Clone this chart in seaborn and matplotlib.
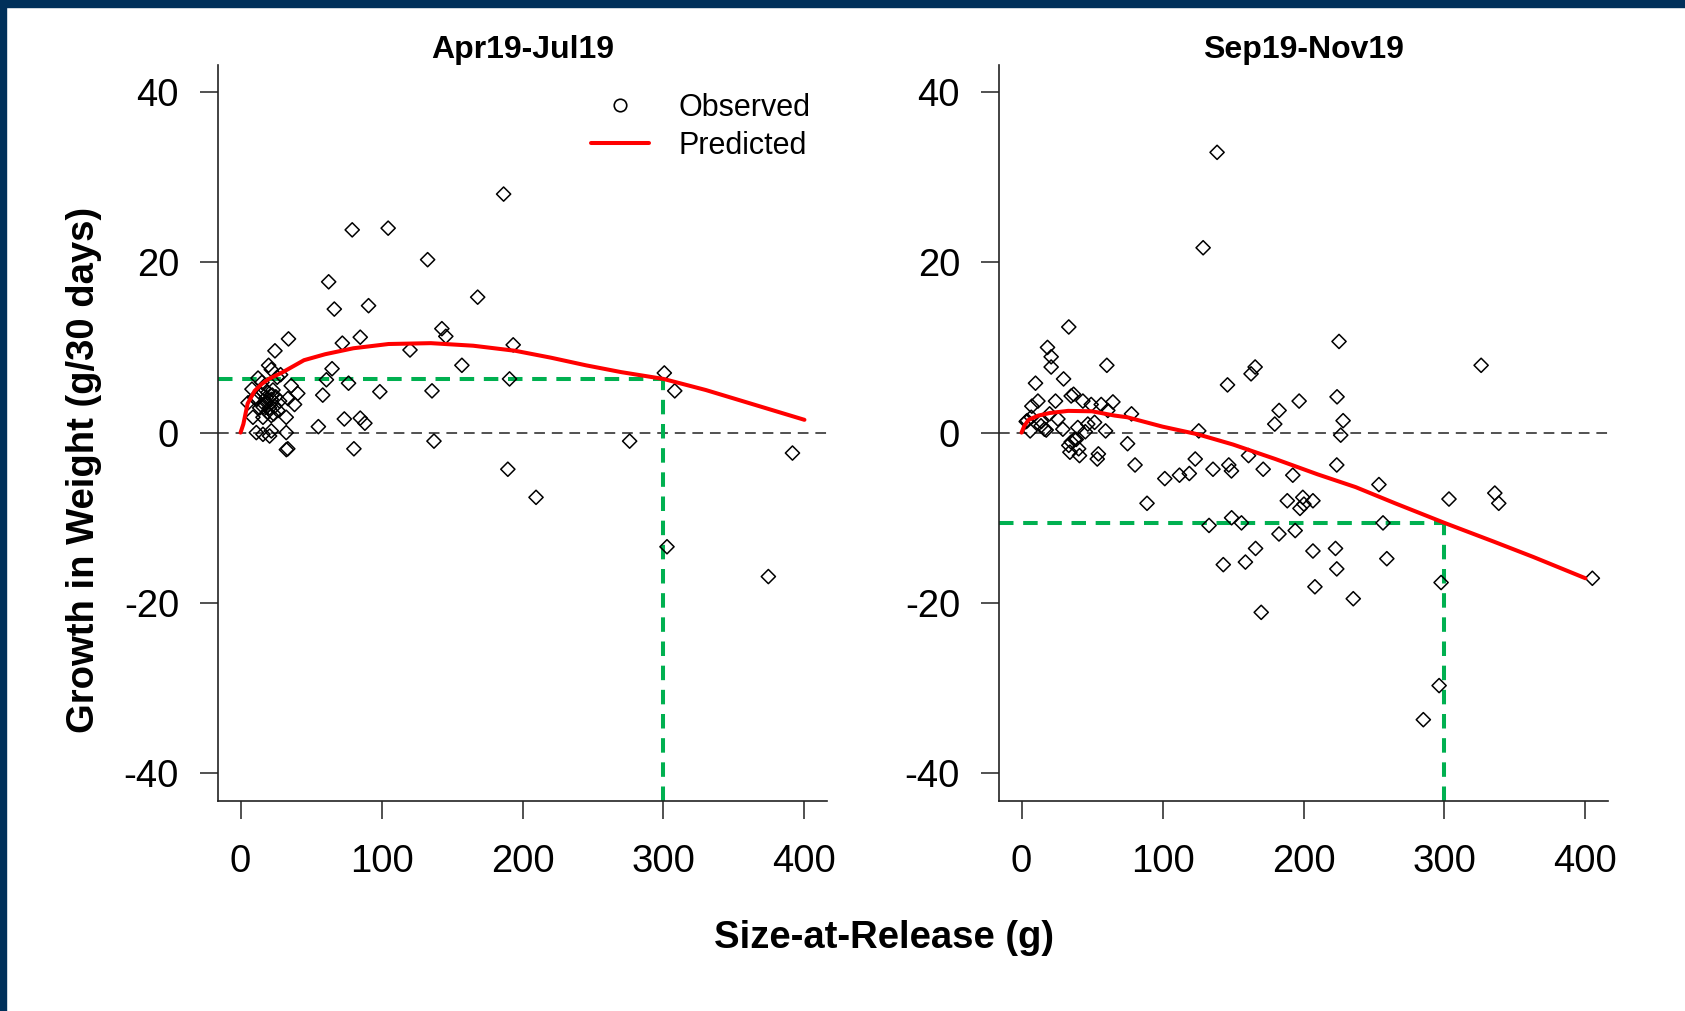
import numpy as np
import pandas as pd
import seaborn as sns
import matplotlib
matplotlib.use("Agg")
import matplotlib.pyplot as plt
from matplotlib.patches import Rectangle
from matplotlib.lines import Line2D

# ---------------- data ----------------
panel_titles = ["Apr19-Jul19", "Sep19-Nov19"]

# Apr19-Jul19 observed
apr_x = [186.6, 79.2, 104.7, 132.7, 62.5, 168.2, 66.5, 90.8, 142.8, 145.6, 84.9, 72.2, 34.0,
         120.2, 193.4, 24.4, 157.0, 64.9, 190.8, 60.9, 76.6, 98.8, 135.8, 58.3, 55.2, 73.6,
         84.9, 88.2, 80.4, 137.2, 276.0, 189.6, 209.6, 302.5, 374.4, 391.5, 300.6, 308.0,
         33.5, 32.5,
         19.9, 21.8, 26.0, 12.4, 15.2, 8.1, 35.9, 40.6, 33.6, 38.3, 5.3, 14.7, 18.2, 21.8,
         17.1, 20.6, 24.2, 27.7, 13.6, 26.5, 11.2, 19.4, 8.8, 15.9, 21.8, 32.4, 11.2, 15.9,
         20.6, 21.8, 32.4, 28.4, 10.0, 16.5, 23.0, 18.0, 22.5, 25.0, 16.0, 19.0, 23.5]
apr_y = [28.0, 23.8, 24.0, 20.3, 17.7, 15.9, 14.5, 14.9, 12.2, 11.3, 11.2, 10.5, 11.0,
         9.7, 10.3, 9.6, 7.9, 7.5, 6.3, 6.2, 5.8, 4.8, 4.9, 4.4, 0.7, 1.6,
         1.7, 1.1, -1.9, -1.0, -1.0, -4.3, -7.6, -13.4, -16.9, -2.4, 7.0, 4.9,
         -1.9, -2.0,
         7.9, 7.4, 6.5, 6.4, 5.9, 5.1, 5.5, 4.6, 4.0, 3.3, 3.5, 4.5, 4.1, 3.9,
         3.3, 2.9, 3.1, 3.7, 2.9, 2.6, 3.9, 4.7, 1.8, 1.8, 2.0, 1.8, 0.0, -0.2,
         -0.4, 0.2, 0.0, 6.8, 4.1, 5.2, 5.0, 3.6, 4.4, 4.2, 3.0, 2.4, 2.2]

# Sep19-Nov19 observed
sep_x = [138.7, 128.8, 33.5, 225.2, 18.4, 21.0, 21.0, 60.5, 9.9, 29.8, 146.1, 162.8, 165.7,
         223.8, 196.9, 182.7, 179.6, 228.1, 226.4, 125.7, 78.0, 75.2, 326.0,
         7.3, 11.6, 24.1, 35.2, 36.9, 43.5, 49.4, 56.5, 64.8, 61.2, 3.3, 6.9, 14.0, 19.9,
         25.8, 29.3, 39.9, 47.0, 51.8, 59.6, 6.1, 16.3, 38.8, 35.2, 33.5, 37.6, 34.3, 40.5,
         41.1, 54.5, 53.7, 45.2, 4.0, 13.8, 17.5,
         80.5, 89.0, 101.6, 112.0, 119.0, 123.2, 135.8, 147.0, 148.9, 161.0, 171.4, 192.4,
         223.6, 253.5, 303.2, 335.7, 338.5, 133.0, 149.0, 156.0, 182.6, 194.1, 188.5, 199.5,
         200.3, 197.5, 206.7, 256.4, 259.1, 206.7, 222.7, 223.6, 166.0, 143.1, 158.8, 208.1,
         235.3, 170.0, 297.6, 296.2, 285.0, 404.9]
sep_y = [32.9, 21.7, 12.4, 10.7, 10.0, 8.9, 7.7, 7.9, 5.8, 6.3, 5.6, 6.9, 7.7,
         4.2, 3.7, 2.6, 1.0, 1.4, -0.3, 0.2, 2.2, -1.3, 7.9,
         3.1, 3.7, 3.7, 4.3, 4.5, 3.7, 3.3, 3.3, 3.6, 2.6, 1.3, 1.8, 1.3, 2.2,
         1.6, 0.4, 0.6, 1.0, 1.2, 0.2, 0.2, 0.4, -0.8, -1.1, -1.5, -0.8, -2.3, -1.9,
         -2.7, -2.5, -3.1, 0.1, 1.4, 0.8, 0.3,
         -3.8, -8.3, -5.4, -5.0, -4.8, -3.1, -4.3, -3.8, -4.5, -2.7, -4.3, -5.0,
         -3.8, -6.1, -7.8, -7.1, -8.3, -10.9, -10.0, -10.6, -11.9, -11.5, -8.0, -7.6,
         -8.4, -8.9, -8.0, -10.6, -14.8, -13.9, -13.6, -16.0, -13.6, -15.5, -15.2, -18.1,
         -19.5, -21.1, -17.6, -29.7, -33.7, -17.1]

# Predicted curves
apr_pred_x = [0, 2, 5, 10, 15, 20, 30, 45, 60, 80, 105, 135, 165, 195, 220, 245, 270, 300, 330, 360, 400]
apr_pred_y = [0, 1.0, 3.4, 4.9, 5.7, 6.3, 7.1, 8.5, 9.2, 9.9, 10.4, 10.5, 10.2, 9.6, 8.8, 7.9, 7.1, 6.3, 5.0, 3.5, 1.5]
sep_pred_x = [0, 2, 5, 12, 20, 33, 50, 66, 75, 100, 125, 150, 180, 210, 237, 265, 300, 335, 363, 400]
sep_pred_y = [0, 0.8, 1.5, 2.0, 2.3, 2.55, 2.5, 2.0, 1.8, 0.7, -0.2, -1.4, -3.1, -4.9, -6.4, -8.3, -10.6, -12.8, -14.6, -17.1]

ref_size = 300
ref_growth = [6.3, -10.6]

x_ticks = [0, 100, 200, 300, 400]
y_ticks = [-40, -20, 0, 20, 40]

# ---------------- style ----------------
sns.set_theme(style="white")
plt.rcParams['font.family'] = ['Liberation Sans', 'DejaVu Sans']
plt.rcParams['axes.unicode_minus'] = False
plt.rcParams['text.color'] = 'black'
plt.rcParams['axes.labelcolor'] = 'black'
plt.rcParams['xtick.color'] = 'black'
plt.rcParams['ytick.color'] = 'black'

W, H = 1685, 1011
fig = plt.figure(figsize=(W / 100, H / 100), dpi=100)
fig.patch.set_facecolor("white")

# navy frame strips (top and left)
fig.add_artist(Rectangle((0, 1 - 7 / H), 1, 7 / H, transform=fig.transFigure,
                         color="#00305A", zorder=10))
fig.add_artist(Rectangle((0, 0), 6 / W, 1, transform=fig.transFigure,
                         color="#00305A", zorder=10))

ax_w = 609 / W
ax_h = 736 / H
ax_b = 1 - 800.6 / H
lefts = [218 / W, 999 / W]

datasets = [(apr_x, apr_y, apr_pred_x, apr_pred_y), (sep_x, sep_y, sep_pred_x, sep_pred_y)]

axes = []
for i, (ox, oy, px, py) in enumerate(datasets):
    ax = fig.add_axes([lefts[i], ax_b, ax_w, ax_h])
    axes.append(ax)
    ax.set_facecolor("none")
    obs = pd.DataFrame({"size": ox, "growth": oy})
    pred = pd.DataFrame({"size": px, "growth": py})

    ax.axhline(0, color="#222222", lw=1.1, ls=(0, (7, 4.5)), zorder=1)
    sns.scatterplot(data=obs, x="size", y="growth", ax=ax, marker="D", s=52,
                    facecolors="none", edgecolor="black", linewidth=1.1, zorder=3)
    sns.lineplot(data=pred, x="size", y="growth", ax=ax, color="#FF0000", lw=2.9,
                 sort=False, estimator=None, zorder=4)
    # reference segments at size = 300
    ax.plot([-16, ref_size], [ref_growth[i], ref_growth[i]], color="#00B050", lw=2.9,
            ls=(0, (3.6, 2.4)), zorder=2)
    ax.plot([ref_size, ref_size], [-43.2, ref_growth[i]], color="#00B050", lw=2.9,
            ls=(0, (3.6, 2.4)), zorder=2)

    ax.set_xlim(-16, 416)
    ax.set_ylim(-43.2, 43.2)
    ax.set_xticks(x_ticks)
    ax.set_yticks(y_ticks)
    ax.set_xticklabels([str(v) for v in x_ticks])
    ax.set_yticklabels([str(v) for v in y_ticks])
    ax.set_xlabel("")
    ax.set_ylabel("")
    for s in ["top", "right"]:
        ax.spines[s].set_visible(False)
    for s in ["left", "bottom"]:
        ax.spines[s].set_visible(True)
        ax.spines[s].set_color("#222222")
        ax.spines[s].set_linewidth(1.2)
    ax.tick_params(axis="both", direction="out", length=13, width=1.1, color="#222222",
                   labelsize=27.5, labelcolor="black", left=True, bottom=True)
    ax.tick_params(axis="x", pad=18)
    ax.tick_params(axis="y", pad=15)
    ax.set_title(panel_titles[i], fontsize=23, fontweight="bold", pad=5, color="black")
    if ax.get_legend() is not None:
        ax.get_legend().remove()

# legend in left panel
handles = [Line2D([], [], marker="o", ls="none", markerfacecolor="none",
                  markeredgecolor="black", markersize=9, markeredgewidth=1.2),
           Line2D([], [], color="#FF0000", lw=2.9)]
axes[0].legend(handles, ["Observed", "Predicted"], loc="upper left",
               bbox_to_anchor=(0.588, 0.982), frameon=False, fontsize=22,
               handlelength=1.9, handletextpad=0.95, labelspacing=0.25, borderpad=0,
               labelcolor="black")

fig.text(84 / W, 1 - 470 / H, "Growth in Weight (g/30 days)", rotation=90,
         fontsize=27.5, fontweight="bold", ha="center", va="center", color="black")
fig.text(884 / W, 1 - 938 / H, "Size-at-Release (g)", fontsize=27.5,
         fontweight="bold", ha="center", va="center", color="black")

fig.savefig("out.png", dpi=100)
